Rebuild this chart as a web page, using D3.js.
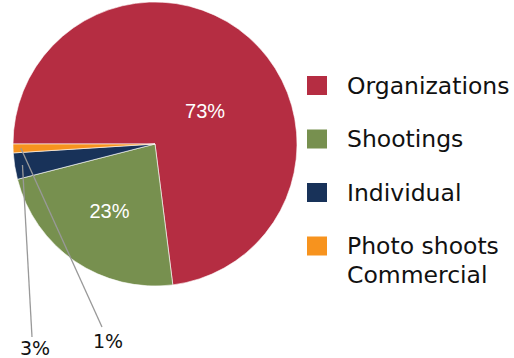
<!DOCTYPE html>
<html>
<head>
<meta charset="utf-8">
<script src="https://cdn.jsdelivr.net/npm/d3@7"></script>
<style>
  body { margin: 0; background: #fff; }
  .legend-text { font-family: "DejaVu Sans", sans-serif; font-size: 23.5px; fill: #111; }
  .in-label { font-family: "Liberation Sans", Arial, sans-serif; font-size: 20px; fill: #fff; }
  .out-label { font-family: "DejaVu Sans", sans-serif; font-size: 19px; fill: #111; }
</style>
</head>
<body>
<script>
var categories = ["Organizations", "Shootings", "Individual", "Photo shoots Commercial"];
var legendLines = [["Organizations"], ["Shootings"], ["Individual"], ["Photo shoots", "Commercial"]];
var values = [73, 23, 3, 1];
var percentLabels = ["73%", "23%", "3%", "1%"];
var colors = ["#B52D42", "#77904F", "#183259", "#F7931E"];

var width = 514, height = 358;
var cx = 155, cy = 144, radius = 142;

var svg = d3.select("body")
    .append("svg")
    .attr("width", width)
    .attr("height", height);

var g = svg.append("g")
    .attr("transform", "translate(" + cx + "," + cy + ")");

var pie = d3.pie()
    .sort(null)
    .startAngle(-Math.PI / 2)
    .endAngle(1.5 * Math.PI)
    .value(function(d) { return d; });

var arcs = pie(values);

var arc = d3.arc()
    .innerRadius(0)
    .outerRadius(radius);

g.selectAll("path")
    .data(arcs)
    .enter()
    .append("path")
    .attr("d", arc)
    .style("fill", function(d, i) { return colors[i]; })
    .style("stroke", "#fff")
    .style("stroke-width", 0.6);

// point on a slice at angle a (radians from 12 o'clock) and radius r
function polar(a, r) { return [r * Math.sin(a), -r * Math.cos(a)]; }
function mid(d) { return (d.startAngle + d.endAngle) / 2; }

// inside labels (best fit pushes the big one a bit lower)
var inside = [
    {i: 0, angle: function(d) { return mid(d) + 0.265; }, r: 60},
    {i: 1, angle: mid, r: 81}
];
g.selectAll(".in-label")
    .data(inside)
    .enter()
    .append("text")
    .attr("class", "in-label")
    .attr("text-anchor", "middle")
    .attr("dy", "0.36em")
    .attr("transform", function(o) {
        var p = polar(o.angle(arcs[o.i]), o.r);
        return "translate(" + p[0] + "," + p[1] + ")";
    })
    .text(function(o) { return percentLabels[o.i]; });

// small slices get labels below the pie with leader lines
var outside = [
    {i: 2, x: -120, y: 204, lx: -123, ly: 193},
    {i: 3, x: -47, y: 197, lx: -53, ly: 183}
];
g.selectAll(".leader")
    .data(outside)
    .enter()
    .append("line")
    .attr("class", "leader")
    .attr("x1", function(o) { return polar(mid(arcs[o.i]), radius * 0.945)[0]; })
    .attr("y1", function(o) { return polar(mid(arcs[o.i]), radius * 0.945)[1]; })
    .attr("x2", function(o) { return o.lx; })
    .attr("y2", function(o) { return o.ly; })
    .style("stroke", "#999")
    .style("stroke-width", 1.3);

g.selectAll(".out-label")
    .data(outside)
    .enter()
    .append("text")
    .attr("class", "out-label")
    .attr("text-anchor", "middle")
    .attr("x", function(o) { return o.x; })
    .attr("y", function(o) { return o.y; })
    .attr("dy", "0.36em")
    .text(function(o) { return percentLabels[o.i]; });

// legend
var legendY = d3.scalePoint()
    .domain(categories)
    .range([85.5, 246]);

var legend = svg.selectAll(".legend")
    .data(categories)
    .enter()
    .append("g")
    .attr("class", "legend")
    .attr("transform", function(d) { return "translate(307," + legendY(d) + ")"; });

legend.append("rect")
    .attr("x", 0)
    .attr("y", -9.5)
    .attr("width", 20)
    .attr("height", 19)
    .style("fill", function(d, i) { return colors[i]; });

legend.append("text")
    .attr("class", "legend-text")
    .attr("x", 40)
    .attr("y", 0)
    .each(function(d, i) {
        var t = d3.select(this);
        legendLines[i].forEach(function(line, k) {
            t.append("tspan")
                .attr("x", 40)
                .attr("dy", k == 0 ? "0.36em" : "1.2em")
                .text(line);
        });
    });
</script>
</body>
</html>
